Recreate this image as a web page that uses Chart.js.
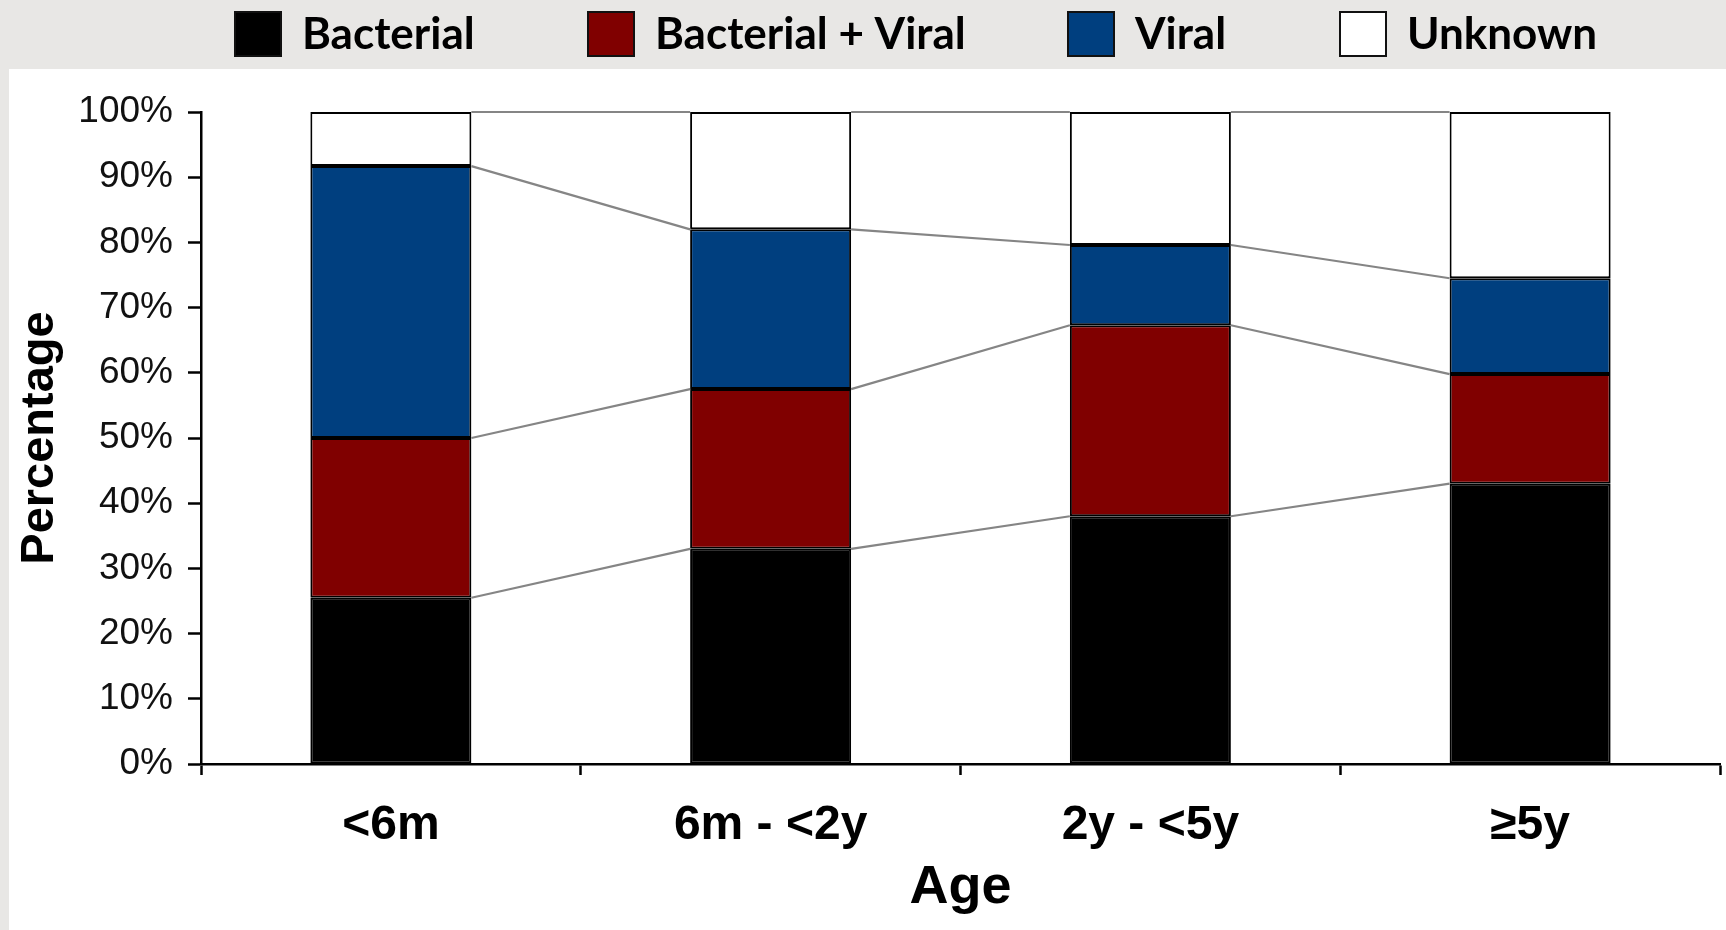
<!DOCTYPE html>
<html><head><meta charset="utf-8">
<script src="https://cdn.jsdelivr.net/npm/chart.js@4/dist/chart.umd.min.js"></script>
<style>html,body{margin:0;padding:0;background:#fff;overflow:hidden}</style>
</head><body>
<canvas id="c" width="1726" height="930" style="display:block;width:1726px;height:930px"></canvas>
<script>
// ---- data ----
const categories = ['<6m', '6m - <2y', '2y - <5y', '\u22655y'];
const seriesNames = ['Bacterial', 'Bacterial + Viral', 'Viral', 'Unknown'];
const bacterial = [25.5, 33.0, 38.0, 43.0];
const bacterialViral = [24.5, 24.5, 29.3, 16.8];
const viral = [41.7, 24.5, 12.3, 14.7];
const unknown = [8.3, 18.0, 20.4, 25.5];
const yTickValues = [0, 10, 20, 30, 40, 50, 60, 70, 80, 90, 100];
const xTitle = 'Age';
const yTitle = 'Percentage';

// ---- styles ----
const colors = ['#000000', '#800000', '#003f7f', '#ffffff'];
const seriesValues = [bacterial, bacterialViral, viral, unknown];

const bgPlugin = {
  id: 'bg',
  beforeDraw(chart) {
    const ctx = chart.ctx;
    ctx.save();
    ctx.fillStyle = '#ffffff';
    ctx.fillRect(0, 0, chart.width, chart.height);
    ctx.fillStyle = '#e8e7e5';
    ctx.fillRect(0, 0, chart.width, 69);
    ctx.fillRect(0, 0, 9, chart.height);
    ctx.restore();
  }
};

const linkPlugin = {
  id: 'links',
  afterDatasetsDraw(chart) {
    const ctx = chart.ctx;
    ctx.save();
    ctx.strokeStyle = '#858585';
    ctx.lineWidth = 2.2;
    chart.data.datasets.forEach((ds, s) => {
      const els = chart.getDatasetMeta(s).data;
      for (let i = 0; i < els.length - 1; i++) {
        const a = els[i], b = els[i + 1];
        ctx.beginPath();
        ctx.moveTo(a.x + a.width / 2, a.y);
        ctx.lineTo(b.x - b.width / 2, b.y);
        ctx.stroke();
      }
    });
    ctx.restore();
  }
};

const legendPlugin = {
  id: 'customLegend',
  afterDraw(chart) {
    const ctx = chart.ctx;
    const boxX = [234, 587, 1067, 1339];
    ctx.save();
    ctx.font = 'bold 44px Lato, "Open Sans", sans-serif';
    ctx.textBaseline = 'middle';
    ctx.textAlign = 'left';
    chart.data.datasets.forEach((ds, i) => {
      const x = boxX[i];
      ctx.fillStyle = ds.backgroundColor;
      ctx.fillRect(x, 11, 48, 46);
      ctx.strokeStyle = '#111';
      ctx.lineWidth = 2;
      ctx.strokeRect(x + 1, 12, 46, 44);
      ctx.fillStyle = '#000';
      ctx.fillText(ds.label, x + 68, 35);
    });
    ctx.restore();
  }
};

const datasets = seriesNames.map((name, i) => ({
  label: name,
  data: seriesValues[i],
  backgroundColor: colors[i],
  borderColor: '#000000',
  borderWidth: 2,
  borderSkipped: false,
  barPercentage: 0.424,
  categoryPercentage: 1.0
}));

new Chart(document.getElementById('c'), {
  type: 'bar',
  data: { labels: categories, datasets },
  options: {
    responsive: false,
    animation: false,
    devicePixelRatio: 1,
    layout: { padding: { top: 112, right: 6, bottom: 0, left: 0 } },
    plugins: { legend: { display: false }, tooltip: { enabled: false } },
    scales: {
      x: {
        stacked: true,
        afterFit(scale) { scale.height = 166; },
        grid: { display: true, drawOnChartArea: false, offset: true, tickLength: 11, tickColor: '#000', tickWidth: 2.5 },
        border: { display: true, color: '#000', width: 2.5 },
        ticks: { color: '#000', padding: 22, font: { family: '"Liberation Sans", Arial, sans-serif', size: 48, weight: 'bold' }, maxRotation: 0 },
        title: { display: true, text: xTitle, color: '#000', font: { family: '"Liberation Sans", Arial, sans-serif', size: 54, weight: 'bold' }, padding: { top: 0, bottom: 9 } }
      },
      y: {
        stacked: true,
        min: 0, max: 100,
        afterFit(scale) { scale.width = 201; },
        afterBuildTicks(scale) { scale.ticks = yTickValues.map(v => ({ value: v })); },
        grid: { display: true, drawOnChartArea: false, tickLength: 13, tickColor: '#000', tickWidth: 2.5 },
        border: { display: true, color: '#000', width: 2.5 },
        ticks: { color: '#111', padding: 15, font: { family: '"Liberation Sans", Arial, sans-serif', size: 37 }, callback: v => v + '%' },
        title: { display: true, text: yTitle, color: '#000', font: { family: '"Liberation Sans", Arial, sans-serif', size: 47, weight: 'bold' }, padding: { top: 12, bottom: 0 } }
      }
    }
  },
  plugins: [bgPlugin, linkPlugin, legendPlugin]
});
</script>
</body></html>
